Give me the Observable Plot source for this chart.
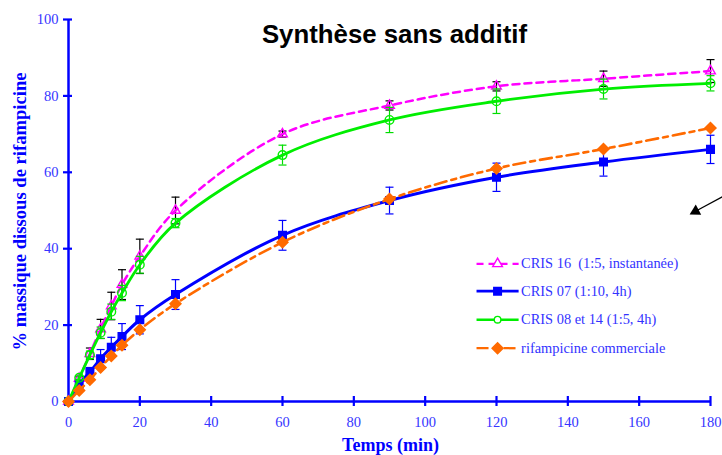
<!DOCTYPE html>
<html>
<head>
<meta charset="utf-8">
<script src="https://cdn.jsdelivr.net/npm/d3@7"></script>
<script src="https://cdn.jsdelivr.net/npm/@observablehq/plot@0.6"></script>
<style>
  html, body { margin: 0; padding: 0; background: #fff; overflow: hidden; }
</style>
</head>
<body>
<div id="chart"></div>
<script>
// Dissolution time points (min)
const times = [0, 3, 6, 9, 12, 15, 20, 30, 60, 90, 120, 150, 180];

// % of rifampicin dissolved, with standard deviations
const cris16      = [0, 6, 12.5, 19, 25, 30.6, 38, 50, 70, 77.5, 82.5, 84.5, 86.5];
const cris16Err   = [0, 0.5, 1.5, 2.5, 3.6, 3.9, 4.5, 3.5, 0.8, 1.2, 1.2, 2, 3];
const cris07      = [0, 4.6, 7.7, 11.2, 14.2, 17, 21.4, 28, 43.5, 52.6, 58.7, 62.7, 66];
const cris07Err   = [0, 1, 1.2, 2.4, 2.6, 3.4, 3.7, 3.9, 3.9, 3.5, 3.7, 3.7, 3.7];
const cris0814    = [0, 6.2, 12.2, 18, 23.5, 28.4, 35.8, 46.7, 64.5, 73.7, 78.6, 81.8, 83.3];
const cris0814Err = [0, 0.5, 1, 1.5, 2, 2, 2.2, 1.2, 2.6, 3.3, 3.2, 2.6, 2];
const commercial  = [0, 2.9, 5.7, 8.9, 11.9, 14.7, 18.8, 25.6, 41.7, 53, 61, 66.1, 71.6];

const seriesNames = [
  "CRIS 16  (1:5, instantanée)",
  "CRIS 07 (1:10, 4h)",
  "CRIS 08 et 14 (1:5, 4h)",
  "rifampicine commerciale"
];

const xTicks = [0, 20, 40, 60, 80, 100, 120, 140, 160, 180];
const yTicks = [0, 20, 40, 60, 80, 100];

const titleText = "Synthèse sans additif";
const xTitle = "Temps (min)";
const yTitle = "% massique dissous de rifampicine";

// Pointer arrow (data units): tail then head
const pointer = [{x1: 183.3, y1: 53.6, x2: 175.8, y2: 49.8}];

// ---- styling per series ----
const styles = [
  {color: "#ff00ff", err: "#000000", dash: "7,5", symbol: "triangle", r: 3.6, fill: "none", width: 2.5, rotate: 0},
  {color: "#0000ff", err: "#0000ff", dash: null, symbol: "square", r: 4.3, fill: "#0000ff", width: 3, rotate: 0},
  {color: "#00ee00", err: "#00dd00", dash: null, symbol: "circle", r: 4.3, fill: "none", width: 2.8, rotate: 0},
  {color: "#ff6a00", err: "#ff6a00", dash: "12,5,5,5", symbol: "square", r: 4.4, fill: "#ff6a00", width: 2.6, rotate: 45}
];

const values = [cris16, cris07, cris0814, commercial];
const errors = [cris16Err, cris07Err, cris0814Err, null];

const seriesRows = values.map((vals, s) =>
  times.map((t, i) => ({t, v: vals[i], e: errors[s] ? errors[s][i] : 0}))
);

// Horizontal cap for error bars
const cap = {
  draw(ctx) { ctx.moveTo(-4, 0); ctx.lineTo(4, 0); }
};

const seriesMarks = seriesRows.flatMap((rows, s) => {
  const st = styles[s];
  const withErr = rows.filter(d => d.e > 0);
  return [
    Plot.ruleX(withErr, {x: "t", y1: d => d.v - d.e, y2: d => d.v + d.e, stroke: st.err, strokeWidth: 1.2}),
    Plot.dot(withErr, {x: "t", y: d => d.v + d.e, symbol: cap, stroke: st.err, strokeWidth: 1.2, r: 3}),
    Plot.dot(withErr, {x: "t", y: d => d.v - d.e, symbol: cap, stroke: st.err, strokeWidth: 1.2, r: 3}),
    Plot.line(rows, {x: "t", y: "v", curve: "catmull-rom", stroke: st.color, strokeWidth: st.width,
      strokeDasharray: st.dash || undefined}),
    Plot.dot(rows, {x: "t", y: "v", symbol: st.symbol, r: st.r, fill: st.fill, stroke: st.color,
      strokeWidth: 1.4, rotate: st.rotate})
  ];
});

// ---- legend (inside the frame, lower right) ----
const legendRows = seriesNames.map((name, s) => ({name, s, y: [36.05, 28.87, 21.41, 13.95][s]}));
const legendX = {x1: 114.4, x2: 126.2, mid: 120.3, text: 126.9};

const legendMarks = legendRows.flatMap(d => {
  const st = styles[d.s];
  return [
    Plot.link([d], {x1: () => legendX.x1, x2: () => legendX.x2, y1: "y", y2: "y",
      stroke: st.color, strokeWidth: st.width - 0.3, strokeDasharray: st.dash || undefined}),
    Plot.dot([d], {x: () => legendX.mid, y: "y", symbol: st.symbol, r: d.s === 2 ? 3.3 : st.r,
      fill: st.fill === "none" ? "white" : st.fill, stroke: st.color, strokeWidth: 1.4, rotate: st.rotate}),
    Plot.text([d], {x: () => legendX.text, y: "y", text: "name", textAnchor: "start",
      fontSize: 14.4, fill: "#3333ff", dx: 0})
  ];
});

const axisBlue = "#0000ff";
const labelBlue = "#3535ff";

const chart = Plot.plot({
  width: 722,
  height: 455,
  marginLeft: 68,
  marginRight: 12,
  marginTop: 19,
  marginBottom: 54,
  style: {fontFamily: "'Liberation Serif', 'Times New Roman', serif", background: "#fff", overflow: "visible"},
  x: {domain: [0, 180], axis: null},
  y: {domain: [0, 100], axis: null},
  marks: [
    // axes
    Plot.ruleX([0], {stroke: axisBlue, strokeWidth: 2.5}),
    Plot.ruleY([0], {stroke: axisBlue, strokeWidth: 2.5}),
    Plot.ruleY(yTicks, {y: d => d, x1: 0, x2: 0, insetLeft: -5, insetRight: -4, stroke: axisBlue, strokeWidth: 2.2}),
    Plot.ruleX(xTicks, {x: d => d, y1: 0, y2: 0, insetTop: -5, insetBottom: -5, stroke: axisBlue, strokeWidth: 2.2}),
    Plot.text(yTicks, {x: 0, y: d => d, text: d => String(d), textAnchor: "end", dx: -10,
      fontSize: 14.5, fill: labelBlue}),
    Plot.text(xTicks, {x: d => d, y: 0, text: d => String(d), dy: 21, lineAnchor: "middle",
      fontSize: 14.5, fill: labelBlue}),
    Plot.text([yTitle], {frameAnchor: "left", text: d => d, rotate: -90, dx: -48, dy: 1,
      textAnchor: "middle", lineAnchor: "middle",
      fontSize: 18, fontWeight: "bold", fill: axisBlue}),
    Plot.text([xTitle], {frameAnchor: "bottom", text: d => d, dx: 1, dy: 43.5, lineAnchor: "middle",
      fontSize: 18, fontWeight: "bold", fill: axisBlue}),
    // title
    Plot.text([titleText], {frameAnchor: "top", text: d => d, dx: 5, dy: 23, lineAnchor: "bottom",
      fontSize: 25.8, fontWeight: "bold", fontFamily: "'Liberation Sans', Arial, sans-serif", fill: "#000"}),
    // series
    ...seriesMarks,
    // legend
    ...legendMarks,
    // pointer arrow
    Plot.link(pointer, {x1: "x1", y1: "y1", x2: "x2", y2: "y2", stroke: "#000", strokeWidth: 1.3}),
    Plot.dot(pointer, {x: "x2", y: "y2", symbol: "triangle", r: 4.3, fill: "#000", stroke: "none", rotate: 242})
  ]
});

// The vertical axis title is set in a condensed bold serif: fit it to its span
chart.querySelectorAll("text").forEach(t => {
  if (t.textContent === yTitle) {
    t.setAttribute("textLength", 278);
    t.setAttribute("lengthAdjust", "spacingAndGlyphs");
  }
});

document.getElementById("chart").appendChild(chart);
</script>
</body>
</html>
